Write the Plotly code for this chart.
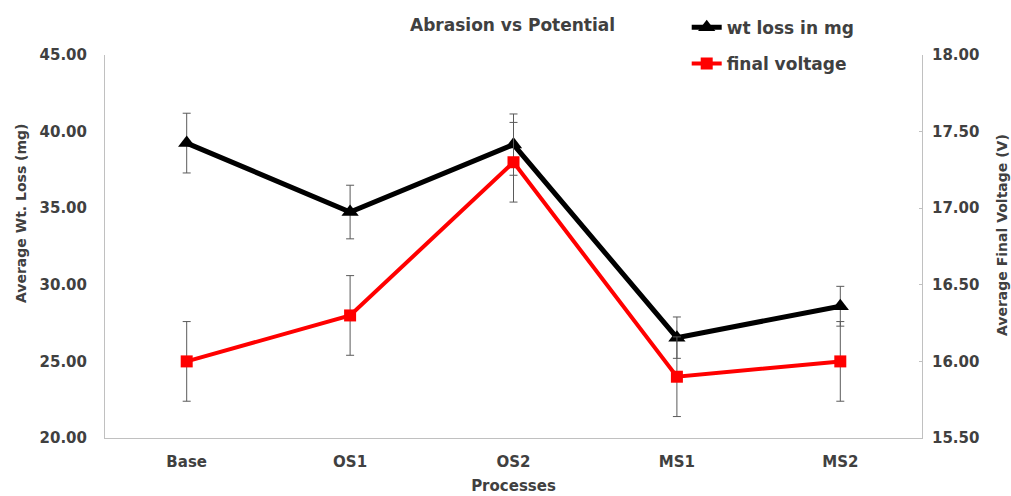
import plotly.graph_objects as go

processes = ["Base", "OS1", "OS2", "MS1", "MS2"]
wt_loss = [39.25, 34.75, 39.15, 26.55, 28.6]
wt_loss_err = [1.95, 1.75, 2.0, 1.35, 1.3]
final_voltage = [16.00, 16.30, 17.30, 15.90, 16.00]
final_voltage_err = [0.26, 0.26, 0.26, 0.26, 0.26]

FONT = "DejaVu Sans"
TXT = "#404040"
AX = "#c0c0c0"

fig = go.Figure()
fig.add_trace(go.Scatter(
    x=processes, y=wt_loss, name="wt loss in mg", yaxis="y",
    mode="lines+markers", legendgroup="a",
    line=dict(color="black", width=5),
    marker=dict(symbol="triangle-up", size=15, color="black"),
    error_y=dict(type="data", array=wt_loss_err, color="#5a5a5a", thickness=1, width=4),
))
fig.add_trace(go.Scatter(
    x=processes, y=final_voltage, name="final voltage", yaxis="y2",
    mode="lines+markers", legendgroup="b",
    line=dict(color="#ff0000", width=4),
    marker=dict(symbol="square", size=12, color="#ff0000"),
    error_y=dict(type="data", array=final_voltage_err, color="#5a5a5a", thickness=1, width=4),
))

fig.update_layout(
    width=1011, height=496,
    margin=dict(l=105, r=89, t=55, b=58, autoexpand=False),
    plot_bgcolor="white", paper_bgcolor="white",
    font=dict(family=FONT, color=TXT),
    title=dict(text="Abrasion vs Potential", x=0.507, xanchor="center", y=0.95, yanchor="middle",
               xref="container", yref="container",
               font=dict(family=FONT, size=17, color=TXT, weight="bold")),
    showlegend=True,
    legend=dict(x=0.712, y=1.118, xanchor="left", yanchor="top", bgcolor="rgba(0,0,0,0)",
                font=dict(family=FONT, size=17, color=TXT, weight="bold"),
                traceorder="grouped", tracegroupgap=11, itemwidth=30),
    xaxis=dict(range=[-0.5, 4.5], showline=True, linecolor=AX, linewidth=1, showgrid=False,
               zeroline=False, ticks="", ticklabelstandoff=10,
               tickfont=dict(family=FONT, size=15, color=TXT, weight="bold"),
               title=dict(text="Processes", font=dict(family=FONT, size=15, color=TXT, weight="bold"),
                          standoff=10)),
    yaxis=dict(range=[20, 45], dtick=5, tickformat=".2f", showline=True, linecolor=AX, linewidth=1,
               showgrid=False, zeroline=False, ticks="", ticklabelstandoff=14,
               tickfont=dict(family=FONT, size=15, color=TXT, weight="bold")),
    yaxis2=dict(range=[15.5, 18], dtick=0.5, tickformat=".2f", overlaying="y", side="right",
                showline=True, linecolor=AX, linewidth=1, showgrid=False, zeroline=False,
                ticks="inside", ticklen=3, tickcolor=AX, ticklabelstandoff=6,
                tickfont=dict(family=FONT, size=15, color=TXT, weight="bold")),
    annotations=[
        dict(text="Average Wt. Loss (mg)", textangle=-90, x=21, y=213, xref="paper", yref="paper",
             showarrow=False, font=dict(family=FONT, size=14, color=TXT, weight="bold")),
        dict(text="Average Final Voltage (V)", textangle=-90, x=1002, y=235, xref="paper", yref="paper",
             showarrow=False, font=dict(family=FONT, size=14, color=TXT, weight="bold")),
    ],
)

# Convert pixel annotation positions to paper coords
pl, pr, pt, pb = 105, 1011 - 89, 55, 496 - 58
for a in fig.layout.annotations:
    a.x = (a.x - pl) / (pr - pl)
    a.y = (pb - a.y) / (pb - pt)
    a.xanchor = "center"
    a.yanchor = "middle"

fig.write_html("out.html")
